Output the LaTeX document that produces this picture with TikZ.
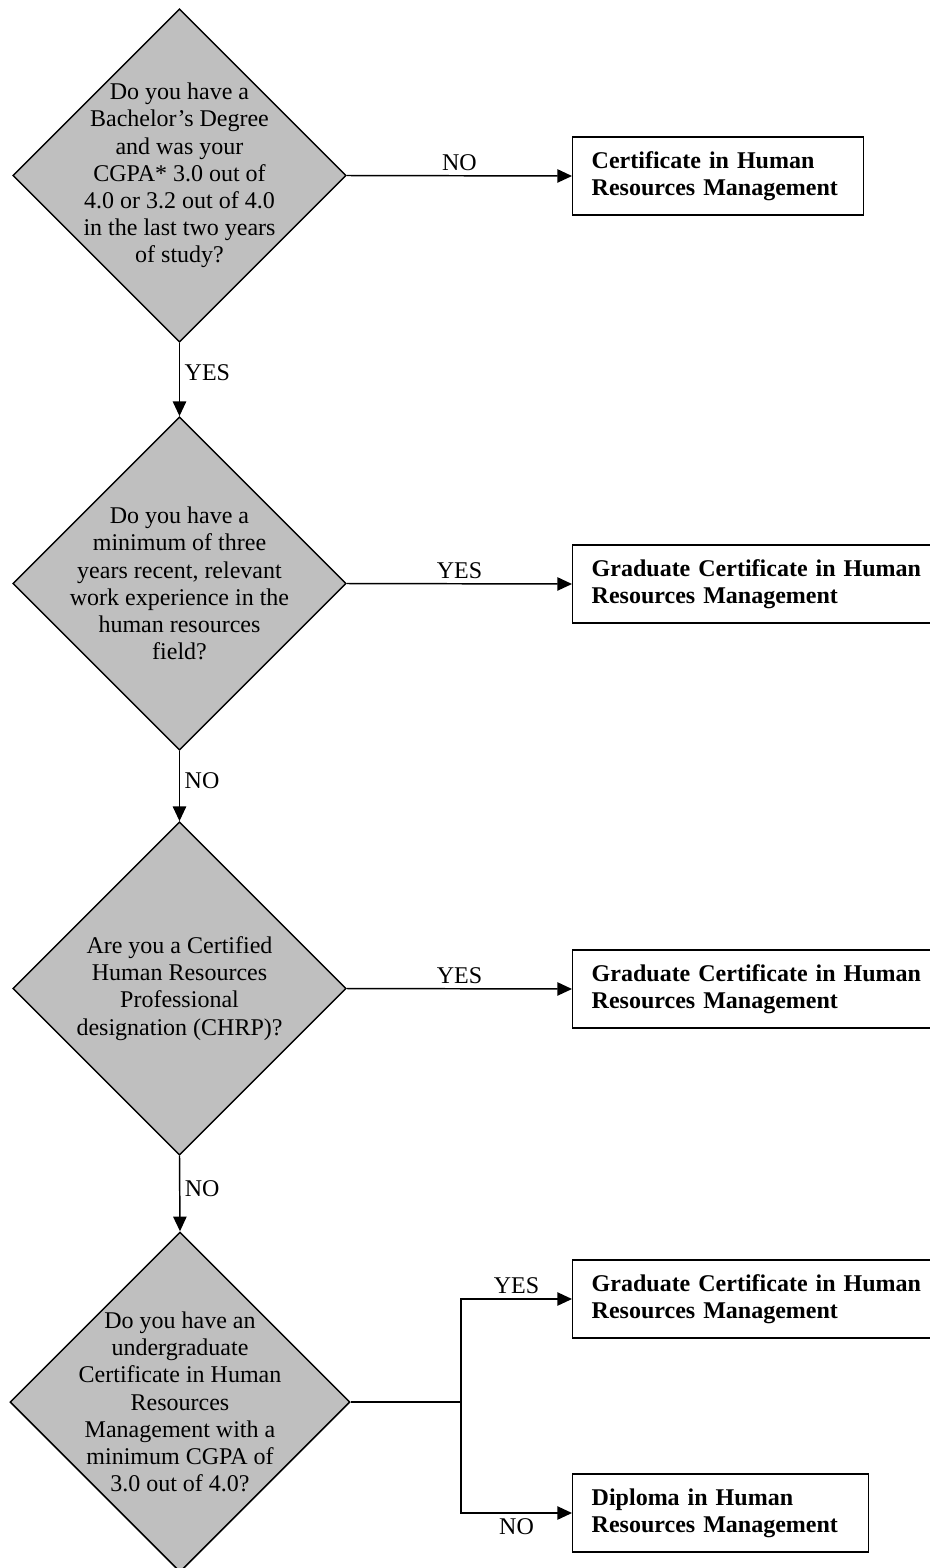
\documentclass[tikz,border=0pt]{standalone}
\usepackage{fontspec}
\setmainfont{Liberation Serif}
\usetikzlibrary{shapes.geometric,arrows.meta}

\begin{document}
\begin{tikzpicture}[x=0.75pt, y=-0.75pt, line width=1.1pt,
    >={Triangle[length=11pt,width=10pt]},
    every node/.style={font=\fontsize{18}{20.4}\selectfont},
    ask/.style={diamond, draw, fill=gray!50, minimum width=250pt, minimum height=250pt, inner sep=-60pt, align=center},
    result/.style={rectangle, draw, fill=white, minimum height=58.5pt, inner xsep=14.25pt, align=left, anchor=west, font=\fontsize{18}{20.4}\selectfont\bfseries}]
    \useasboundingbox (0,0) rectangle (929,1568);
    \node[ask] (A) at (179.5,175.5) {Do you have a\\Bachelor's Degree\\and was your\\CGPA* 3.0 out of\\4.0 or 3.2 out of 4.0\\in the last two years\\of study?};
    \node[ask] (B) at (179.5,583.5) {Do you have a\\minimum of three\\years recent, relevant\\work experience in the\\human resources\\field?};
    \node[ask] (C) at (179.5,988.5) {Are you a Certified\\Human Resources\\Professional\\designation (CHRP)?};
    \node[ask, minimum width=255pt, minimum height=255pt] (D) at (180,1402) {Do you have an\\undergraduate\\Certificate in Human\\Resources\\Management with a\\minimum CGPA of\\3.0 out of 4.0?};
    \node[result, text width=189.75pt] (E) at (572,176) {Certificate in Human\\Resources Management};
    \node[result, text width=251.5pt] (F) at (572,584) {Graduate Certificate in Human\\Resources Management};
    \node[result, text width=251.5pt] (G) at (572,989) {Graduate Certificate in Human\\Resources Management};
    \node[result, text width=251.5pt] (H) at (572,1299) {Graduate Certificate in Human\\Resources Management};
    \node[result, text width=193.5pt] (I) at (572,1513) {Diploma in Human\\Resources Management};
    \coordinate (S) at (461,1402);
    \draw[->] (A.east) -- node[above]{NO} (E.west);
    \draw[->] (A.south) -- node[right, pos=0.4]{YES} (B.north);
    \draw[->] (B.east) -- node[above]{YES} (F.west);
    \draw[->] (B.south) -- node[right, pos=0.42]{NO} (C.north);
    \draw[->] (C.east) -- node[above]{YES} (G.west);
    \draw[->] (C.south) -- node[right, pos=0.44]{NO} (D.north);
    \draw (D.east) -- (S);
    \draw[->] (S) |- node[pos=0.75, above]{YES} (H.west);
    \draw[->] (S) |- node[pos=0.75, below]{NO} (I.west);
\end{tikzpicture}
\end{document}
